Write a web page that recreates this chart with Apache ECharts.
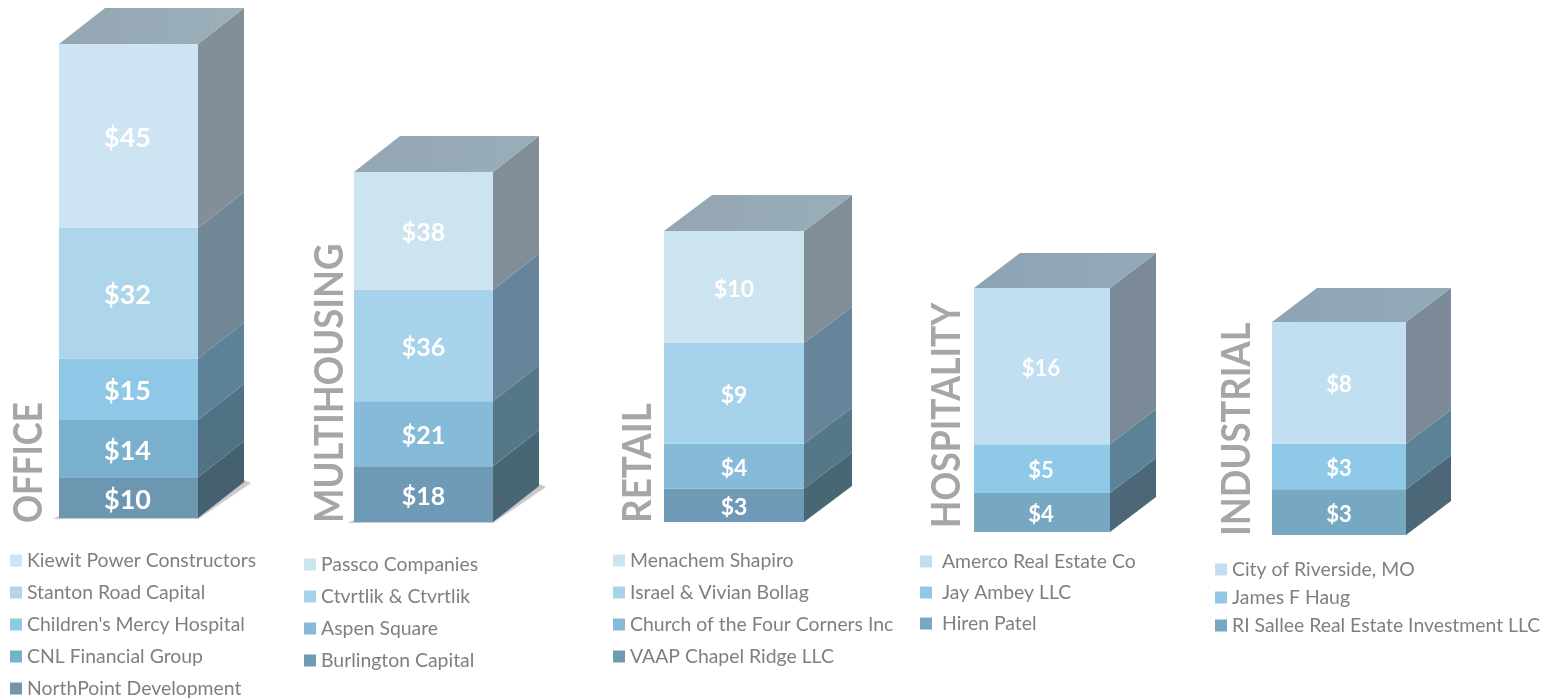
<!DOCTYPE html>
<html>
<head>
<meta charset="utf-8">
<title>Top buyers by property type</title>
<style>html,body{margin:0;padding:0;background:#fff}#chart{width:1555px;height:698px}</style>
<script src="https://cdn.jsdelivr.net/npm/echarts@6/dist/echarts.min.js"></script>
</head>
<body>
<div id="chart"></div>
<script>
// Property types, in drawing order
const categories = ['OFFICE', 'MULTIHOUSING', 'RETAIL', 'HOSPITALITY', 'INDUSTRIAL'];

// Buyers and amounts per property type, listed from the top of each stack down
const officeBuyers = ['Kiewit Power Constructors', 'Stanton Road Capital', "Children's Mercy Hospital", 'CNL Financial Group', 'NorthPoint Development'];
const officeValues = [45, 32, 15, 14, 10];
const multihousingBuyers = ['Passco Companies', 'Ctvrtlik & Ctvrtlik', 'Aspen Square', 'Burlington Capital'];
const multihousingValues = [38, 36, 21, 18];
const retailBuyers = ['Menachem Shapiro', 'Israel & Vivian Bollag', 'Church of the Four Corners Inc', 'VAAP Chapel Ridge LLC'];
const retailValues = [10, 9, 4, 3];
const hospitalityBuyers = ['Amerco Real Estate Co', 'Jay Ambey LLC', 'Hiren Patel'];
const hospitalityValues = [16, 5, 4];
const industrialBuyers = ['City of Riverside, MO', 'James F Haug', 'RI Sallee Real Estate Investment LLC'];
const industrialValues = [8, 3, 3];

const buyers = [officeBuyers, multihousingBuyers, retailBuyers, hospitalityBuyers, industrialBuyers];
const values = [officeValues, multihousingValues, retailValues, hospitalityValues, industrialValues];

// Face colours per stack: front, side
const palettes = [
  { front: ['#CEE4F2', '#AED6EB', '#8EC8E6', '#78B0CD', '#6D96B0'], side: ['#828F98', '#708795', '#5B8297', '#517185', '#45606F'], top: ['#93A6B2', '#9CB0BA'] },
  { front: ['#CCE3F0', '#A6D3EB', '#85BBD9', '#6F9AB6'], side: ['#818E98', '#68849A', '#547887', '#496674'], top: ['#93A6B2', '#9AAEB9'] },
  { front: ['#CCE3F0', '#A6D3EB', '#85BBD9', '#6F9AB6'], side: ['#818E98', '#68849A', '#547887', '#496674'], top: ['#93A6B2', '#9AAEB9'] },
  { front: ['#C2DFF1', '#8FC9E7', '#76A8C1'], side: ['#7B8A96', '#5B8296', '#4C6878'], top: ['#8CA4B3', '#93ABB9'] },
  { front: ['#C2DFF1', '#8FC9E7', '#76A8C1'], side: ['#7B8A96', '#5B8296', '#4C6878'], top: ['#8CA4B3', '#93ABB9'] }
];

// Placement of every stack, its depth offset, label sizes and legend block
const layouts = [
  { left: 59, top: 44, width: 139, height: 474, dx: 46, dy: 36, valueSize: 27, valueDx: -1, shadow: true, nameX: 29, nameY: 523, nameScale: 0.87, legendLeft: 10, legendTop: 551, rowGap: 13, textPad: 0 },
  { left: 354, top: 172, width: 139, height: 350, dx: 46, dy: 36, valueSize: 25, valueDx: 0, shadow: true, nameX: 330, nameY: 523, nameScale: 0.91, legendLeft: 304, legendTop: 555, rowGap: 13, textPad: 0 },
  { left: 664, top: 231, width: 140, height: 291, dx: 48, dy: 36, valueSize: 23, valueDx: 0, shadow: false, nameX: 638, nameY: 523, nameScale: 0.92, legendLeft: 613, legendTop: 551, rowGap: 13, textPad: 0 },
  { left: 974, top: 288, width: 136, height: 244, dx: 46, dy: 35, valueSize: 22, valueDx: -1, shadow: false, nameX: 947, nameY: 528, nameScale: 0.89, legendLeft: 920, legendTop: 552, rowGap: 12, textPad: 5 },
  { left: 1272, top: 322, width: 134, height: 213, dx: 45, dy: 34, valueSize: 22, valueDx: 0, shadow: false, nameX: 1237, nameY: 536, nameScale: 0.91, legendLeft: 1215, legendTop: 560, rowGap: 9, textPad: 0 }
];

function poly(points, fill, extra) {
  return Object.assign({ type: 'polygon', shape: { points: points }, style: { fill: fill } }, extra || {});
}

// One stacked segment: front face, receding side, and the lid on the uppermost piece
function segmentRenderer(panelIndex, segIndex) {
  const layout = layouts[panelIndex];
  const pal = palettes[panelIndex];
  const segCount = values[panelIndex].length;
  return function (params, api) {
    const low = api.coord([api.value(0), api.value(1)]);
    const high = api.coord([api.value(0), api.value(2)]);
    const half = api.size([1, 0])[0] / 2;
    const x0 = low[0] - half, x1 = low[0] + half;
    const yLow = low[1], yHigh = high[1];
    const dx = layout.dx, dy = layout.dy;
    const children = [];
    if (layout.shadow && segIndex === segCount - 1) {
      children.push(poly(
        [[x0 - 6, yLow + 1], [x1, yLow + 1], [x1 + dx + 7, yLow - dy + 1], [x1 + dx, yLow - dy - 2], [x0, yLow - 2]],
        'rgba(90,90,90,0.28)',
        { style: { fill: 'rgba(90,90,90,0.28)', shadowBlur: 3, shadowColor: 'rgba(90,90,90,0.3)' } }
      ));
    }
    children.push({
      type: 'rect',
      shape: { x: x0, y: yHigh, width: x1 - x0, height: yLow - yHigh },
      style: { fill: api.visual('color') }
    });
    children.push(poly([[x1, yLow], [x1 + dx, yLow - dy], [x1 + dx, yHigh - dy], [x1, yHigh]], pal.side[segIndex]));
    if (segIndex === 0) {
      children.push(poly([[x0, yHigh], [x0 + dx, yHigh - dy], [x1 + dx, yHigh - dy], [x1, yHigh]], pal.top[0], {
        style: {
          fill: { type: 'linear', x: 0, y: 0, x2: 1, y2: 0, colorStops: [{ offset: 0, color: pal.top[0] }, { offset: 1, color: pal.top[1] }] }
        }
      }));
    }
    children.push({
      type: 'text',
      style: {
        x: (x0 + x1) / 2 + layout.valueDx,
        y: (yLow + yHigh) / 2 + 2.5,
        text: '$' + (api.value(2) - api.value(1)),
        fill: '#FFFFFF',
        font: 'bold ' + layout.valueSize + 'px Lato',
        align: 'center',
        verticalAlign: 'middle'
      }
    });
    return { type: 'group', children: children };
  };
}

const grid = [], xAxis = [], yAxis = [], series = [], legend = [], graphic = [];

categories.forEach(function (cat, p) {
  const layout = layouts[p];
  const vals = values[p];
  const total = vals.reduce(function (a, b) { return a + b; }, 0);

  grid.push({ left: layout.left, top: layout.top, width: layout.width, height: layout.height });
  xAxis.push({ type: 'category', gridIndex: p, data: [cat], show: false });
  yAxis.push({ type: 'value', gridIndex: p, min: 0, max: total, show: false });

  // Stack from the base upward
  let base = 0;
  for (let s = vals.length - 1; s >= 0; s--) {
    series.push({
      type: 'custom',
      name: buyers[p][s],
      xAxisIndex: p,
      yAxisIndex: p,
      silent: true,
      itemStyle: { color: palettes[p].front[s] },
      renderItem: segmentRenderer(p, s),
      encode: { x: 0, y: [1, 2] },
      data: [[0, base, base + vals[s]]]
    });
    base += vals[s];
  }

  // The tall height keeps each block in one column near the canvas edge
  legend.push({
    orient: 'vertical',
    left: layout.legendLeft,
    top: layout.legendTop,
    height: 300,
    padding: 0,
    selectedMode: false,
    icon: 'rect',
    itemWidth: 12,
    itemHeight: 12,
    itemGap: layout.rowGap,
    textStyle: { color: '#7F7F7F', fontFamily: 'Lato', fontSize: 19.4, lineHeight: 18, padding: [0, 0, 0, layout.textPad] },
    data: buyers[p]
  });

  graphic.push({
    type: 'text',
    x: layout.nameX,
    y: layout.nameY,
    rotation: Math.PI / 2,
    scaleX: layout.nameScale,
    style: { text: cat, fill: '#A6A6A6', font: 'bold 40px Lato', align: 'left', verticalAlign: 'middle' }
  });
});

const chart = echarts.init(document.getElementById('chart'));
chart.setOption({
  animation: false,
  backgroundColor: '#FFFFFF',
  grid: grid,
  xAxis: xAxis,
  yAxis: yAxis,
  legend: legend,
  graphic: graphic,
  series: series
});
</script>
</body>
</html>
